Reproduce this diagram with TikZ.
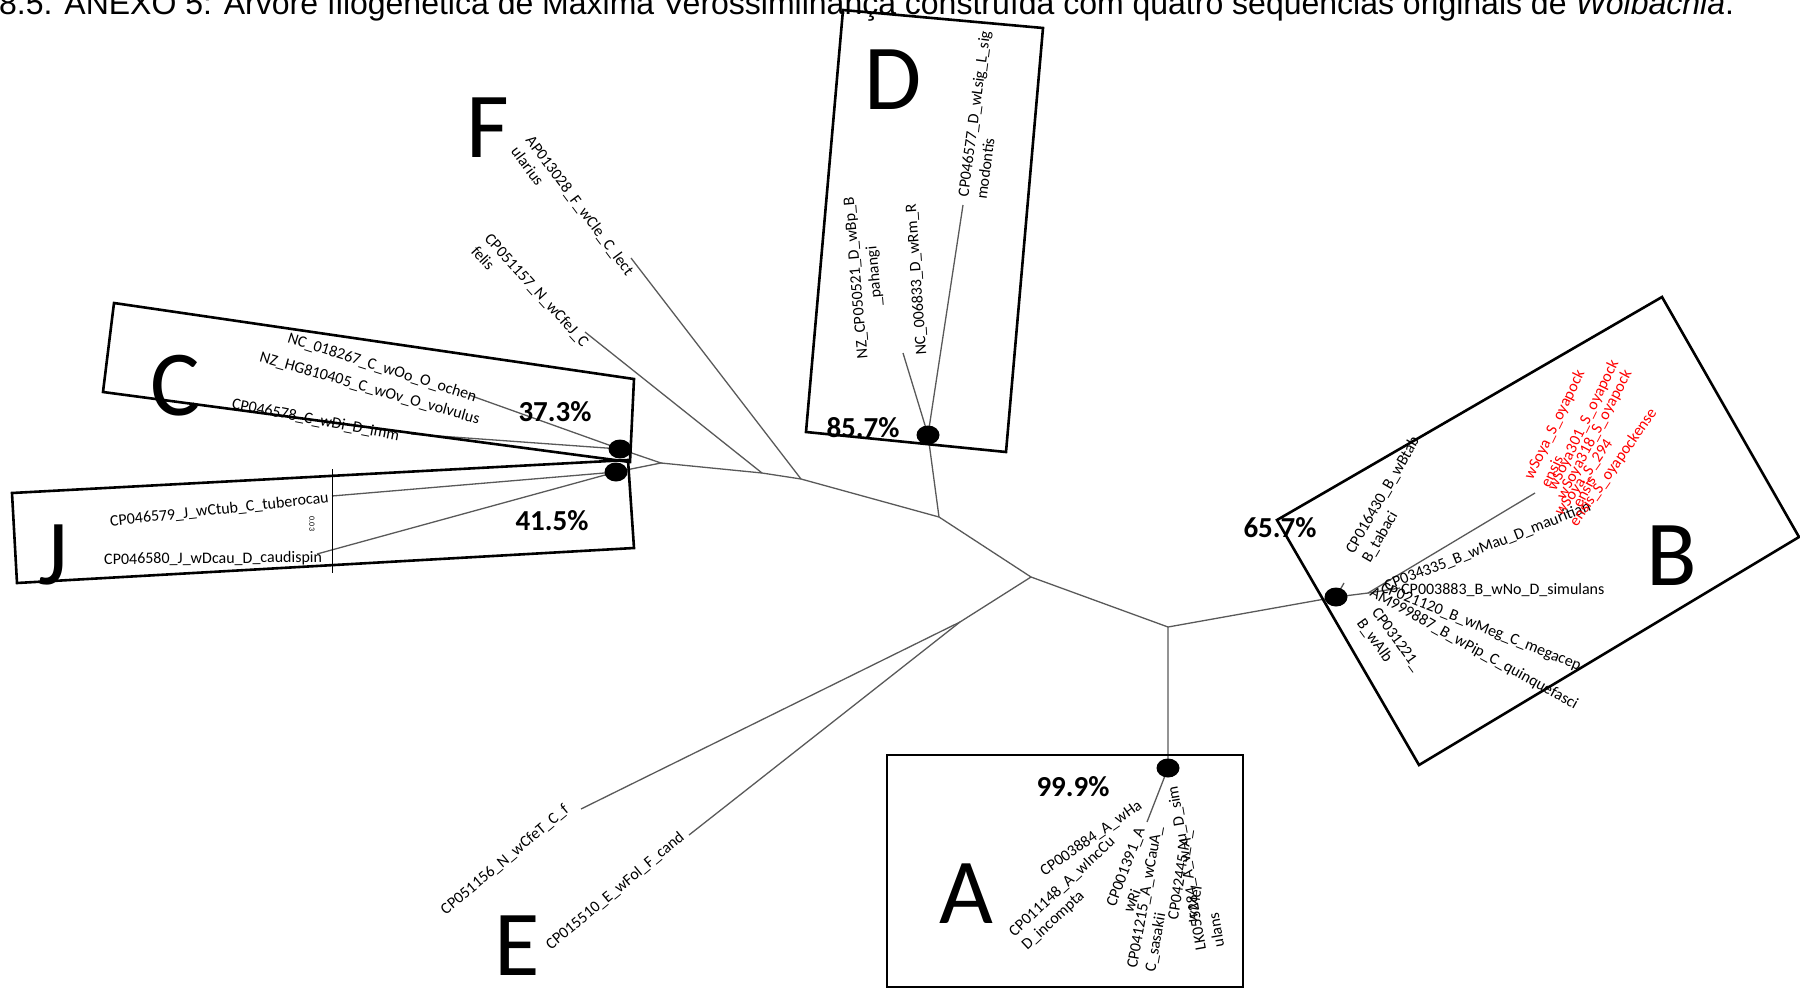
\documentclass[tikz,border=0pt]{standalone}
\usepackage{fontspec}
\setmainfont{Carlito}
\newfontfamily\titlefamily{Liberation Sans}
\usetikzlibrary{shapes.geometric}

\newcommand{\leafsize}{\fontsize{16}{18.5}\selectfont}

\tikzset{
  branch/.style={draw=black!65, line width=1.3pt},
  cladebox/.style={draw=black, line width=2.6pt},
  cladedot/.style={ellipse, fill=black, inner sep=0pt, minimum width=23pt, minimum height=19pt},
  leaf/.style={font=\leafsize, inner sep=0pt, anchor=west, align=left},
  redleaf/.style={leaf, text=red},
  cladename/.style={font=\fontsize{93}{93}\selectfont, inner sep=0pt},
  support/.style={font=\bfseries\fontsize{29}{29}\selectfont, inner sep=0pt},
}

\begin{document}
\begin{tikzpicture}[x=1pt, y=-1pt]
  \useasboundingbox (0,0) rectangle (1800,988);
  \clip (0,0) rectangle (1800,988);

  % Title, cut by the top edge
  \node[anchor=base west, inner sep=0pt, font=\titlefamily\fontsize{32}{32}\selectfont] (title) at (-1,14)
    {8.5. ANEXO 5: Árvore filogenética de Máxima Verossimilhança construída com quatro sequências originais de \textit{Wolbachia}.};

  % Inner nodes of the tree
  \coordinate (nCJ) at (661,463);
  \coordinate (nF2) at (762,473);
  \coordinate (nF1) at (801,479);
  \coordinate (nD) at (939,517);
  \coordinate (nE) at (1031,577);
  \coordinate (nEs) at (960,622);
  \coordinate (nA) at (1168,627);
  \coordinate (cB) at (1336,597);
  \coordinate (cA) at (1168,768);
  \coordinate (cD) at (928,435);
  \coordinate (cC) at (620,449);
  \coordinate (cJ) at (616,472);

  % Branch tips
  \coordinate (tF1) at (631,258);
  \coordinate (tF2) at (585,332);
  \coordinate (tD1) at (963,205);
  \coordinate (tD2) at (903,353);
  \coordinate (tC1) at (469,395);
  \coordinate (tC2) at (411,434);
  \coordinate (tJ1) at (332,496);
  \coordinate (tJ2) at (317,554);
  \coordinate (tE1) at (581,809);
  \coordinate (tE2) at (689,835);
  \coordinate (tA) at (1147,822);
  \coordinate (tB1) at (1368,593);
  \coordinate (tB2) at (1535,493);
  \coordinate (tB3) at (1344,583);
  \coordinate (tB4) at (1400,588);

  % Branches
  \draw[branch] (cC) -- (nCJ) -- (cJ);
  \draw[branch] (nCJ) -- (nF2) -- (nF1) -- (nD) -- (nE) -- (nA) -- (cB);
  \draw[branch] (nF2) -- (tF2);
  \draw[branch] (nF1) -- (tF1);
  \draw[branch] (nD) -- (cD);
  \draw[branch] (cD) -- (tD1);
  \draw[branch] (cD) -- (tD2);
  \draw[branch] (nE) -- (nEs);
  \draw[branch] (nEs) -- (tE1);
  \draw[branch] (nEs) -- (tE2);
  \draw[branch] (nA) -- (cA) -- (tA);
  \draw[branch] (cC) -- (tC1);
  \draw[branch] (cC) -- (tC2);
  \draw[branch] (cJ) -- (tJ1);
  \draw[branch] (cJ) -- (tJ2);
  \draw[branch] (cB) -- (tB1) -- (tB2);
  \draw[branch] (cB) -- (tB3);
  \draw[branch] (tB1) -- (tB4);

  % Support dots
  \node[cladedot] (dotA) at (cA) {};
  \node[cladedot] (dotB) at (cB) {};
  \node[cladedot] (dotC) at (cC) {};
  \node[cladedot] (dotD) at (cD) {};
  \node[cladedot] (dotJ) at (cJ) {};

  % Scale bar
  \coordinate (sbTop) at (332,469);
  \coordinate (sbBot) at (332,573);
  \draw[black, line width=1pt] (sbTop) -- (sbBot);
  \node[font=\fontsize{8}{8}\selectfont, rotate=-90, inner sep=0pt] (scale) at (312,524) {0.03};

  % Clade boxes
  \draw[cladebox] (843,10) -- (1043,28) -- (1006,452) -- (806,432) -- cycle;
  \draw[cladebox] (114,303) -- (634,379) -- (630,462) -- (103,392) -- cycle;
  \draw[cladebox] (12,493) -- (628,460) -- (634,548) -- (17,583) -- cycle;
  \draw[cladebox] (1277,520) -- (1662,297) -- (1799,537) -- (1419,765) -- cycle;
  \draw[cladebox] (887,755) rectangle (1243,987);

  % Clade letters
  \node[cladename] (lettA) at (966,894) {A};
  \node[cladename] (lettB) at (1672,556) {B};
  \node[cladename] (lettC) at (175,386) {C};
  \node[cladename] (lettD) at (893,80) {D};
  \node[cladename] (lettE) at (517,946) {E};
  \node[cladename] (lettF) at (488,128) {F};
  \node[cladename] (lettJ) at (53,555) {J};

  % Support values
  \node[support] (supD) at (863,428) {85.7\%};
  \node[support] (supC) at (555,412) {37.3\%};
  \node[support] (supJ) at (552,521) {41.5\%};
  \node[support] (supA) at (1073,787) {99.9\%};
  \node[support] (supB) at (1280,528) {65.7\%};

  % Leaves of D
  \node[leaf, rotate=82.4] (wLsig) at (972,198) {CP046577\_D\_wLsig\_L\_sig\\modontis};
  \node[leaf, rotate=95, anchor=center, align=center] (wBp) at (866,277) {NZ\_CP050521\_D\_wBp\_B\\\_pahangi};
  \node[leaf, rotate=94] (wRm) at (922,355) {NC\_006833\_D\_wRm\_R};

  % Leaves of F
  \node[leaf, rotate=-53.3] (wCle) at (522,143) {AP013028\_F\_wCle\_C\_lect\\ularius};
  \node[leaf, rotate=-47.7] (wCfeJ) at (481,242) {CP051157\_N\_wCfeJ\_C\\felis};

  % Leaves of C
  \node[leaf, rotate=-17.5] (wOo) at (288,338) {NC\_018267\_C\_wOo\_O\_ochen};
  \node[leaf, rotate=-16] (wOv) at (260,357) {NZ\_HG810405\_C\_wOv\_O\_volvulus};
  \node[leaf, rotate=-11] (wDi) at (232,404) {CP046578\_C\_wDi\_D\_imm};

  % Leaves of J
  \node[leaf, rotate=6.3] (wCtub) at (110,522) {CP046579\_J\_wCtub\_C\_tuberocau};
  \node[leaf, rotate=0.5] (wDcau) at (104,560) {CP046580\_J\_wDcau\_D\_caudispin};

  % Leaves of E
  \node[leaf, rotate=40] (wCfeT) at (443,912) {CP051156\_N\_wCfeT\_C\_f};
  \node[leaf, rotate=39.7] (wFol) at (548,947) {CP015510\_E\_wFol\_F\_cand};

  % Leaves of A
  \node[leaf, rotate=35] (wHa) at (1042,873) {CP003884\_A\_wHa};
  \node[leaf, rotate=43] (wInc) at (1018,941) {CP011148\_A\_wIncCu\\D\_incompta};
  \node[leaf, rotate=69] (wRi) at (1119,909) {CP001391\_A\\wRi};
  \node[leaf, rotate=80] (wCau) at (1142,970) {CP041215\_A\_wCauA\_\\C\_sasakii};
  \node[leaf, rotate=81] (wMel) at (1182,921) {CP042445\_A\_\\wMel};
  \node[leaf, rotate=100] (wAu) at (1210,949) {LK055284\_A\_wAu\_D\_sim\\ulans};

  % Leaves of B
  \node[leaf, rotate=60] (wBtab) at (1358,557) {CP016430\_B\_wBtab\\B\_tabaci};
  \node[leaf, rotate=21.5] (wMau) at (1385,587) {CP034335\_B\_wMau\_D\_mauritian};
  \node[leaf] (wNo) at (1401,590) {CP003883\_B\_wNo\_D\_simulans};
  \node[leaf, rotate=-21.6] (wMeg) at (1381,588) {CP021120\_B\_wMeg\_C\_megacep};
  \node[leaf, rotate=-29] (wPip) at (1371,592) {AM999887\_B\_wPip\_C\_quinquefasci};
  \node[leaf, rotate=-54] (wAlb) at (1367,615) {CP031221\_\\B\_wAlb};

  % New sequences, in red
  \node[redleaf, rotate=64] (wSoyaA) at (1536,482) {wSoya\_S\_oyapock\\ensis};
  \node[redleaf, rotate=64] (wSoyaB) at (1552,490) {wSoya301\_S\_oyapock};
  \node[redleaf, rotate=62] (wSoyaC) at (1568,502) {wSoya318\_S\_oyapock\\ensis};
  \node[redleaf, rotate=55] (wSoyaD) at (1566,520) {wSoya\_S\_294\\ensis\_S\_oyapockense};
\end{tikzpicture}
\end{document}
